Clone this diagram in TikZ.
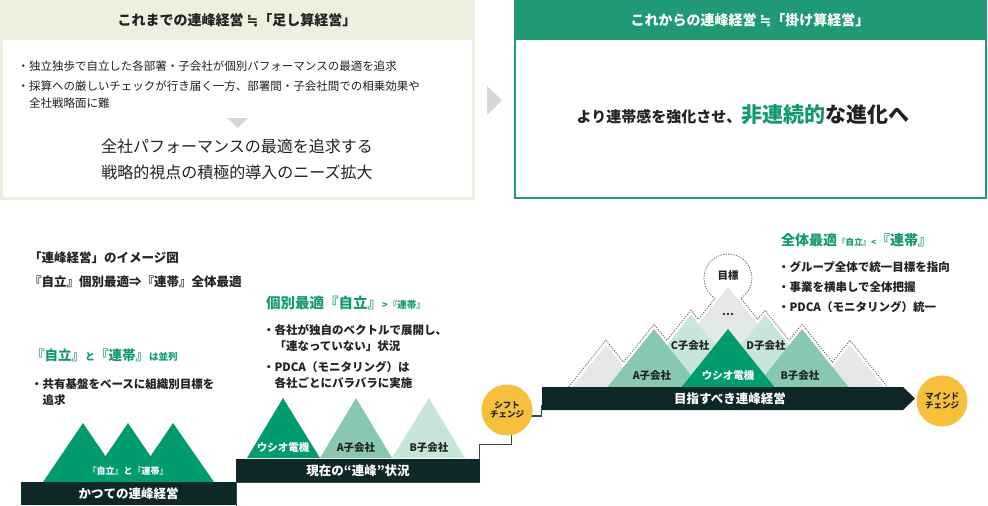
\documentclass[tikz,border=0pt]{standalone}
\usepackage{fontspec}
\setmainfont{Noto Sans CJK JP}
\newfontfamily\dejavu{DejaVu Sans}
\definecolor{beige}{HTML}{EDF0DE}
\definecolor{teal}{HTML}{1F9A75}
\definecolor{tealtext}{HTML}{12996F}
\definecolor{ink}{HTML}{222222}
\definecolor{band}{HTML}{0E2729}
\definecolor{yel}{HTML}{F6BF3C}
\definecolor{gtri}{HTML}{D6D6D6}
\definecolor{mgray}{HTML}{E6E8E7}
\definecolor{mlight}{HTML}{C8E5D9}
\definecolor{mmid}{HTML}{88C8B0}
\definecolor{mdark}{HTML}{009B6F}
\definecolor{stairc}{HTML}{3A4848}
\newcommand{\fz}[1]{\fontsize{#1}{#1}\selectfont}
\newcommand{\approxeq}{{\dejavu ≒}}
\tikzset{
  txt/.style={inner sep=0pt, outer sep=0pt, text=ink},
  bul/.style={txt, anchor=west, font=\fz{11.5}},
  bulb/.style={txt, anchor=west, font=\fz{11.5}\bfseries},
  lab/.style={txt, font=\fz{10.5}\bfseries},
  bandtxt/.style={txt, text=white, font=\fz{12.5}\bfseries},
  circtxt/.style={circle, fill=yel, minimum size=51pt, inner sep=0pt, align=center, font=\fz{8.5}\bfseries, text=ink},
  dotline/.style={draw=black!60, line width=0.8pt, dash pattern=on 1.3pt off 1.3pt},
  stair/.style={draw=stairc, line width=1.1pt}
}
\begin{document}
\begin{tikzpicture}[x=1pt,y=-1pt]
\useasboundingbox (0,0) rectangle (988,506);
% ---------- top left box
\fill[beige] (0,0) rectangle (475,200);
\fill[white] (3,40) rectangle (472,197);
\node[txt, font=\fz{14}\bfseries] (t1) at (237,20) {これまでの連峰経営 \approxeq「足し算経営」};
\node[bul] (b1) at (17.5,66) {・独立独歩で自立した各部署・子会社が個別パフォーマンスの最適を追求};
\node[bul] (b2) at (17.5,86) {・採算への厳しいチェックが行き届く一方、部署間・子会社間での相乗効果や};
\node[bul] (b2b) at (29,103) {全社戦略面に難};
\fill[gtri] (227,118) -- (248,118) -- (237.5,128) -- cycle;
\node[txt, font=\fz{16}] (big1) at (237,146) {全社パフォーマンスの最適を追求する};
\node[txt, font=\fz{16}] (big2) at (237,172) {戦略的視点の積極的導入のニーズ拡大};
% arrow
\fill[gtri] (487,86) -- (502,100.5) -- (487,115) -- cycle;
% ---------- top right box
\fill[teal] (514,0) rectangle (987,40);
\draw[teal, line width=2pt] (515,1) rectangle (986,198);
\node[txt, text=white, font=\fz{14}\bfseries] (t2) at (750,20) {これからの連峰経営 \approxeq「掛け算経営」};
\node[txt, font=\bfseries] (main) at (743,115) {{\fz{15}より連帯感を強化させ、}{\fz{21}\color{tealtext}非連続的}{\fz{21}な進化へ}};
% ---------- bottom left
\node[txt, anchor=west, font=\fz{12.5}\bfseries] (cap1) at (29,258) {「連峰経営」のイメージ図};
\node[txt, anchor=west, font=\fz{12.5}\bfseries] (cap2) at (29,282) {『自立』個別最適⇒『連帯』全体最適};
\node[txt, anchor=west, text=tealtext, font=\bfseries] (h1) at (31,355) {{\fz{13.5}『自立』}{\fz{10}と}{\fz{13.5}『連帯』}{\fz{9.5}は並列}};
\node[bulb] (lb1) at (31,384) {・共有基盤をベースに組織別目標を};
\node[bulb] (lb2) at (42.5,400) {追求};
\fill[mdark] (43,482) -- (83,423) -- (123,482) -- cycle;
\fill[mdark] (88,482) -- (128,423) -- (168,482) -- cycle;
\fill[mdark] (133,482) -- (173,423) -- (214,482) -- cycle;
\node[txt, text=white, font=\fz{9}\bfseries] (ml) at (128,471) {『自立』と『連帯』};
\fill[band] (21,482) rectangle (236,505);
\node[bandtxt] (band1) at (128.5,494) {かつての連峰経営};
% ---------- middle
\node[txt, anchor=west, text=tealtext, font=\bfseries] (h2) at (266,303) {{\fz{14.5}個別最適『自立』}{\fz{9.5}>『連帯』}};
\node[bulb] (mb1) at (263,330) {・各社が独自のベクトルで展開し、};
\node[bulb] (mb2) at (274.5,346) {「連なっていない」状況};
\node[bulb] (mb3) at (263,367) {・PDCA（モニタリング）は};
\node[bulb] (mb4) at (274.5,383) {各社ごとにバラバラに実施};
\fill[mdark] (247,458) -- (283,398) -- (320,458) -- cycle;
\fill[mmid] (320,458) -- (356,398) -- (392,458) -- cycle;
\fill[mlight] (392,458) -- (429,398) -- (465,458) -- cycle;
\node[lab, text=white] (m1) at (283,448) {ウシオ電機};
\node[lab] (m2) at (356,448) {A子会社};
\node[lab] (m3) at (429,448) {B子会社};
\draw[stair] (236.5,506) -- (236.5,482.5) -- (479.5,482.5) -- (479.5,444.5) -- (511.5,444.5) -- (511.5,425);
\draw[stair] (525,416) -- (541.5,416) -- (541.5,405);
\fill[band] (236,459) rectangle (480,482);
\node[bandtxt] (band2) at (358,470.5) {現在の“連峰”状況};
% circles
\node[circtxt] (shift) at (507,410) {シフト\\[1pt]チェンジ};
\node[circtxt] (mind) at (942,401) {マインド\\[1pt]チェンジ};
% ---------- right
\node[txt, anchor=west, text=tealtext, font=\bfseries] (h3) at (781,240) {{\fz{14}全体最適}{\fz{8.5}『自立』<}{\fz{14}『連帯』}};
\node[bulb] (rb1) at (778,267) {・グループ全体で統一目標を指向};
\node[bulb] (rb2) at (778,287) {・事業を横串しで全体把握};
\node[bulb] (rb3) at (778,307) {・PDCA（モニタリング）統一};
% dotted outline
\draw[dotline] (568.6,387) -- (606,340.2) -- (623.6,362.2) -- (654,324.2) -- (666.9,340.3) -- (691,310.2) -- (698.3,319.3) -- (715.1,298.3)
  arc[start angle=122.4, end angle=417.6, radius=24] -- (757.7,319.3) -- (765,310.2) -- (789.1,340.3) -- (802,324.2) -- (832.4,362.2) -- (850,340.2) -- (887.4,387);
% mountains
\fill[mgray] (572.4,387) -- (606,345) -- (639.6,387) -- cycle;
\fill[mgray] (816.4,387) -- (850,345) -- (883.6,387) -- cycle;
\fill[mgray] (648,387) -- (728,287) -- (808,387) -- cycle;
\fill[mlight] (633.4,387) -- (691,315) -- (748.6,387) -- cycle;
\fill[mlight] (707.4,387) -- (765,315) -- (822.6,387) -- cycle;
\fill[mmid] (607.6,387) -- (654,329) -- (700.4,387) -- cycle;
\fill[mmid] (755.6,387) -- (802,329) -- (848.4,387) -- cycle;
\fill[mdark] (681.6,387) -- (728,329) -- (774.4,387) -- cycle;
\node[lab] (goal) at (728,276) {目標};
\node[lab] (dots) at (728,314) {…};
\node[lab] (rc) at (690,346) {C子会社};
\node[lab] (rd) at (766,346) {D子会社};
\node[lab] (ra) at (652,376) {A子会社};
\node[lab, text=white] (ru) at (728,376) {ウシオ電機};
\node[lab] (rbb) at (800,376) {B子会社};
\fill[band] (542,387) -- (903,387) -- (915,398.5) -- (903,410) -- (542,410) -- cycle;
\node[bandtxt] (band3) at (730,398.5) {目指すべき連峰経営};
\end{tikzpicture}
\end{document}
